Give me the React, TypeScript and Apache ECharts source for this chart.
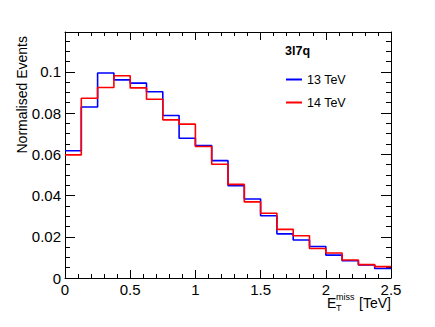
import React, { useEffect, useRef } from "react";
import * as echarts from "echarts";

const binLowEdges = [0, 0.125, 0.25, 0.375, 0.5, 0.625, 0.75, 0.875, 1.0, 1.125, 1.25, 1.375, 1.5, 1.625, 1.75, 1.875, 2.0, 2.125, 2.25, 2.375];
const xUpperEdge = 2.5;
const values13TeV = [0.0617, 0.0829, 0.0994, 0.0961, 0.0945, 0.0903, 0.0788, 0.0678, 0.0642, 0.0569, 0.0448, 0.0383, 0.0302, 0.0214, 0.0184, 0.0153, 0.0111, 0.0084, 0.0063, 0.0046];
const values14TeV = [0.0597, 0.0872, 0.0924, 0.0981, 0.0922, 0.0867, 0.0767, 0.0746, 0.0638, 0.0552, 0.0454, 0.0369, 0.0314, 0.0236, 0.0205, 0.0143, 0.0121, 0.0087, 0.0065, 0.0055];
const seriesNames = ["13 TeV", "14 TeV"];
const seriesColors = ["#0000ff", "#ff0000"];
const yMax = 0.1193;
const xMajorStep = 0.5;
const xMinorStep = 0.1;
const yMajorStep = 0.02;
const yMinorStep = 0.005;

const FONT = "'Liberation Sans', Arial, Helvetica, sans-serif";

function stepData(vals: number[]) {
  const pts = binLowEdges.map((x, i) => [x, vals[i]]);
  pts.push([xUpperEdge, vals[vals.length - 1]]);
  return pts;
}

export default function App() {
  const ref = useRef<HTMLDivElement>(null);
  useEffect(() => {
    if (!ref.current) return;
    const chart = echarts.init(ref.current, null, { renderer: "svg" });
    const axisLine = { show: true, onZero: false, lineStyle: { color: "#000", width: 1 } };
    const noLine = { show: false, onZero: false };
    const xAx = (position: string, interval: number, tickLen: number, main: boolean, labels: boolean) => ({
      type: "value",
      position,
      min: 0,
      max: xUpperEdge,
      interval,
      axisLine: main ? axisLine : noLine,
      axisTick: { show: true, inside: true, length: tickLen, lineStyle: { color: "#000" } },
      splitLine: { show: false },
      axisLabel: labels
        ? { fontFamily: FONT, fontSize: 15, lineHeight: 14, color: "#000", margin: 4 }
        : { show: false },
    });
    const yAx = (position: string, interval: number, tickLen: number, main: boolean, labels: boolean) => ({
      type: "value",
      position,
      min: 0,
      max: yMax,
      interval,
      axisLine: main ? axisLine : noLine,
      axisTick: { show: true, inside: true, length: tickLen, lineStyle: { color: "#000" } },
      splitLine: { show: false },
      axisLabel: labels
        ? {
            fontFamily: FONT,
            fontSize: 15,
            color: "#000",
            margin: 4,
            showMaxLabel: false,
            formatter: (v: number) => String(parseFloat(v.toFixed(3))),
          }
        : { show: false },
    });
    chart.setOption({
      animation: false,
      backgroundColor: "#fff",
      textStyle: { fontFamily: FONT },
      title: {
        text: "3l7q",
        left: 280,
        top: 39,
        textStyle: { fontFamily: FONT, fontSize: 12.5, fontWeight: "bold", color: "#000" },
      },
      legend: {
        orient: "vertical",
        left: 281,
        top: 68,
        itemWidth: 16,
        itemHeight: 2,
        itemGap: 10,
        icon: "rect",
        data: seriesNames,
        textStyle: { fontFamily: FONT, fontSize: 12.5, color: "#000", padding: [0, 0, 0, 0] },
      },
      grid: { left: 65, right: 44, top: 32, bottom: 49 },
      xAxis: [
        xAx("bottom", xMajorStep, 8, true, true),
        xAx("top", xMajorStep, 8, true, false),
        xAx("bottom", xMinorStep, 4, false, false),
        xAx("top", xMinorStep, 4, false, false),
      ],
      yAxis: [
        yAx("left", yMajorStep, 10, true, true),
        yAx("right", yMajorStep, 10, true, false),
        yAx("left", yMinorStep, 5, false, false),
        yAx("right", yMinorStep, 5, false, false),
      ],
      graphic: [
        {
          type: "text",
          x: 22,
          y: 36,
          rotation: Math.PI / 2,
          style: {
            text: "Normalised Events",
            fontFamily: FONT,
            fontSize: 14,
            fill: "#000",
            align: "right",
            verticalAlign: "middle",
          },
        },
        {
          type: "text",
          x: 327,
          y: 303,
          style: { text: "E", fontFamily: FONT, fontSize: 14, fill: "#000", align: "left", verticalAlign: "middle" },
        },
        {
          type: "text",
          x: 336,
          y: 308,
          style: { text: "T", fontFamily: FONT, fontSize: 9, fill: "#000", align: "left", verticalAlign: "middle" },
        },
        {
          type: "text",
          x: 336,
          y: 297,
          style: { text: "miss", fontFamily: FONT, fontSize: 9, fill: "#000", align: "left", verticalAlign: "middle" },
        },
        {
          type: "text",
          x: 391,
          y: 303,
          style: { text: "[TeV]", fontFamily: FONT, fontSize: 14, fill: "#000", align: "right", verticalAlign: "middle" },
        },
      ],
      series: [
        {
          name: seriesNames[0],
          type: "line",
          step: "end",
          symbol: "none",
          data: stepData(values13TeV),
          itemStyle: { color: seriesColors[0] },
          lineStyle: { color: seriesColors[0], width: 1.6 },
        },
        {
          name: seriesNames[1],
          type: "line",
          step: "end",
          symbol: "none",
          data: stepData(values14TeV),
          itemStyle: { color: seriesColors[1] },
          lineStyle: { color: seriesColors[1], width: 1.6 },
        },
      ],
    });
    return () => chart.dispose();
  }, []);
  return <div ref={ref} style={{ width: 435, height: 327, position: "absolute", left: 0, top: 0 }} />;
}
